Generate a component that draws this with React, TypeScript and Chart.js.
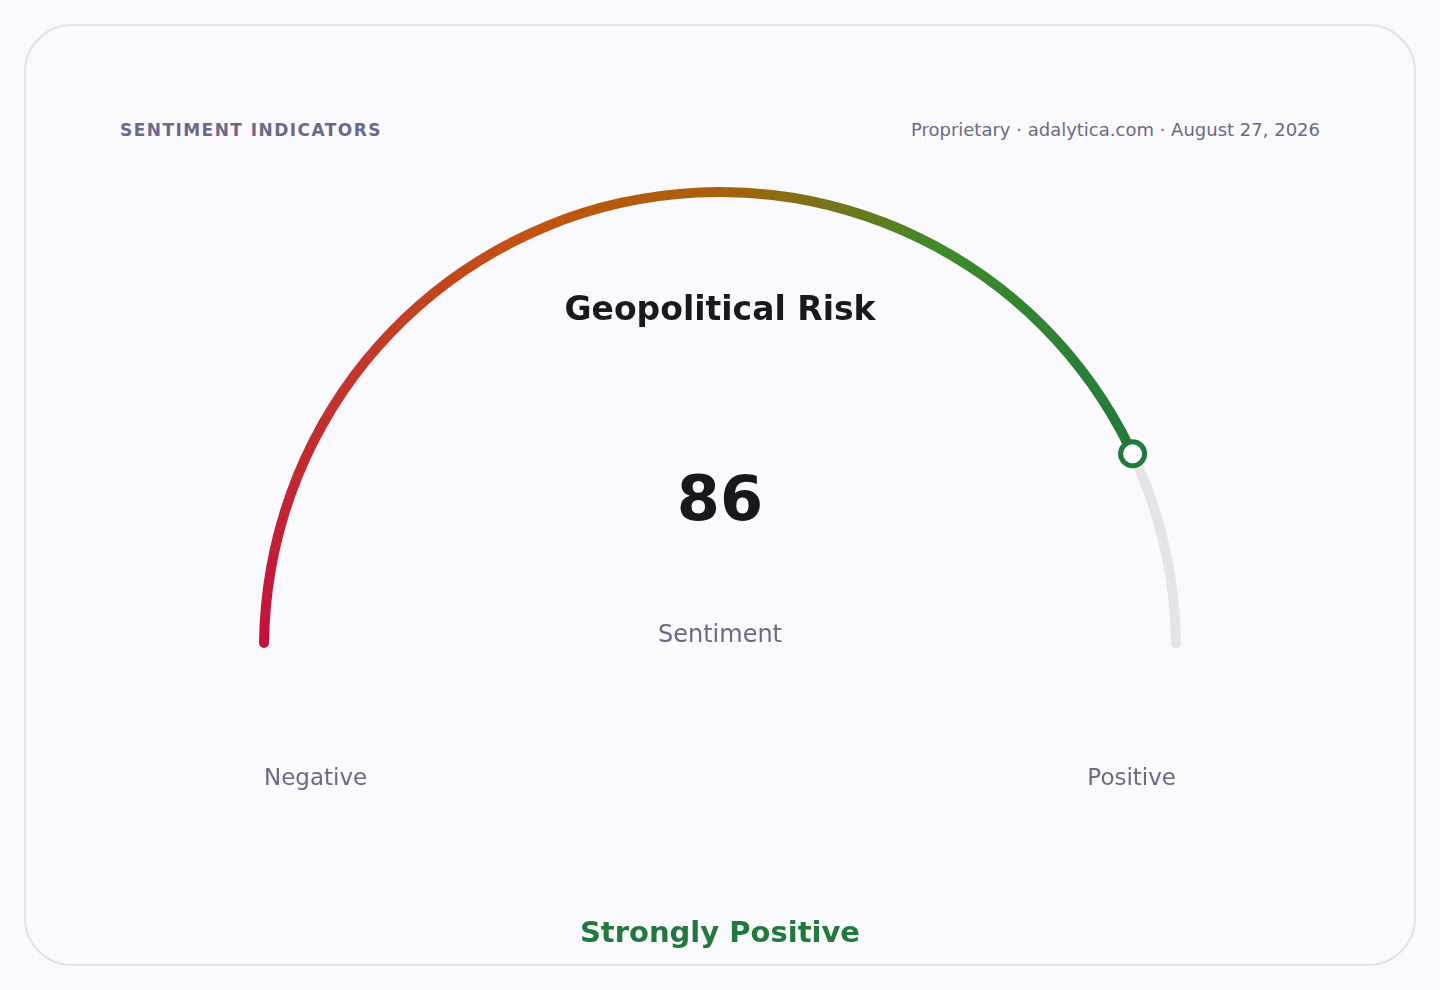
import React, { useEffect, useRef } from 'react';
import Chart from 'chart.js/auto';

// gauge data
const SCORE = 86;
const SCALE_MAX = 100;
const SEGMENT_LABELS = ['Sentiment', 'Remaining'];
const GAUGE_VALUES = [SCORE, SCALE_MAX - SCORE];
const END_LABELS = ['Negative', 'Positive'];
const GAUGE_TITLE = 'Geopolitical Risk';
const VALUE_CAPTION = 'Sentiment';
const VERDICT = 'Strongly Positive';

const FONT = '"DejaVu Sans", "Liberation Sans", sans-serif';
const GREEN = '#217a3b';
const TRACK = '#e4e4e8';
const MUTED = '#6b6b85';

// gradient stops along the half circle (0 = left end, 1 = right end)
const GRADIENT_STOPS: [number, string][] = [
    [0, '#c4103e'],
    [0.22, '#c23a2a'],
    [0.36, '#c2530f'],
    [0.5, '#a8600a'],
    [0.66, '#3f8a2a'],
    [0.86, '#217a3b'],
    [1, '#217a3b'],
];

const gaugeText = {
    id: 'gaugeText',
    afterDatasetsDraw(chart: any) {
        const arc = chart.getDatasetMeta(0).data[0];
        if (!arc) return;
        const { x, y, endAngle, outerRadius, innerRadius } = arc.getProps(
            ['x', 'y', 'endAngle', 'outerRadius', 'innerRadius'], true);
        const rMid = (outerRadius + innerRadius) / 2;
        const ctx = chart.ctx;
        ctx.save();

        // knob at the score position
        const kx = x + Math.cos(endAngle) * rMid;
        const ky = y + Math.sin(endAngle) * rMid;
        ctx.beginPath();
        ctx.arc(kx, ky, 12, 0, Math.PI * 2);
        ctx.fillStyle = '#ffffff';
        ctx.fill();
        ctx.lineWidth = 5;
        ctx.strokeStyle = GREEN;
        ctx.stroke();

        ctx.textBaseline = 'alphabetic';
        ctx.textAlign = 'center';
        ctx.fillStyle = '#18181f';
        ctx.font = `bold 33px ${FONT}`;
        ctx.fillText(GAUGE_TITLE, x, y - 328);

        ctx.fillStyle = '#18181b';
        ctx.font = `bold 62px ${FONT}`;
        ctx.fillText(String(GAUGE_VALUES[0]), x, y - 128);

        ctx.fillStyle = MUTED;
        ctx.font = `24px ${FONT}`;
        ctx.fillText(VALUE_CAPTION, x, y - 6);

        ctx.font = `23px ${FONT}`;
        ctx.textAlign = 'left';
        ctx.fillText(END_LABELS[0], x - rMid, y + 137);
        ctx.textAlign = 'right';
        ctx.fillText(END_LABELS[1], x + rMid, y + 137);

        ctx.restore();
    },
};

const GaugeChart: React.FC = () => {
    const canvasRef = useRef<HTMLCanvasElement>(null);
    const chartRef = useRef<Chart | null>(null);

    useEffect(() => {
        if (!canvasRef.current) return;
        if (chartRef.current) chartRef.current.destroy();

        let gradient: CanvasGradient | null = null;

        chartRef.current = new Chart(canvasRef.current, {
            type: 'doughnut',
            data: {
                labels: SEGMENT_LABELS,
                datasets: [
                    {
                        data: GAUGE_VALUES,
                        backgroundColor: (c: any) => {
                            if (c.dataIndex !== 0) return TRACK;
                            const area = c.chart.chartArea;
                            if (!area) return GRADIENT_STOPS[0][1];
                            if (!gradient) {
                                const cx = (area.left + area.right) / 2;
                                gradient = c.chart.ctx.createConicGradient(Math.PI, cx, area.bottom);
                                GRADIENT_STOPS.forEach(([p, col]) => gradient!.addColorStop(p * 0.5, col));
                                gradient!.addColorStop(1, GRADIENT_STOPS[0][1]);
                            }
                            return gradient;
                        },
                        borderWidth: 0,
                        borderRadius: 5,
                        spacing: 0,
                    },
                ],
            },
            options: {
                responsive: true,
                maintainAspectRatio: false,
                animation: false,
                rotation: -90,
                circumference: 180,
                // percentage: a pixel cutout is measured against the short side for half circles
                cutout: '97.83%',
                layout: { padding: { left: 259, right: 259, top: 187, bottom: 342 } },
                plugins: {
                    legend: { display: false },
                    tooltip: { enabled: false },
                },
                events: [],
            },
            plugins: [gaugeText],
        });

        return () => {
            if (chartRef.current) {
                chartRef.current.destroy();
                chartRef.current = null;
            }
        };
    }, []);

    return (
        <div style={{ position: 'absolute', left: 0, top: 0, width: 1440, height: 990 }}>
            <canvas ref={canvasRef} />
        </div>
    );
};

export default function App() {
    useEffect(() => {
        document.body.style.margin = '0';
        document.body.style.background = '#f9f9fd';
    }, []);

    return (
        <div style={{ position: 'relative', width: 1440, height: 990, background: '#f9f9fd', fontFamily: FONT, overflow: 'hidden' }}>
            <div
                style={{
                    position: 'absolute',
                    left: 24,
                    top: 24,
                    width: 1392,
                    height: 942,
                    boxSizing: 'border-box',
                    border: '2px solid #e1e1ee',
                    borderRadius: 48,
                    background: '#f9f9fe',
                }}
            />
            <div
                style={{
                    position: 'absolute',
                    left: 120,
                    top: 120,
                    fontSize: 17,
                    lineHeight: '20px',
                    fontWeight: 700,
                    letterSpacing: 1.45,
                    color: '#6b6989',
                }}
            >
                SENTIMENT INDICATORS
            </div>
            <div
                style={{
                    position: 'absolute',
                    right: 120,
                    top: 119,
                    fontSize: 18,
                    lineHeight: '21px',
                    color: '#6b6b80',
                    whiteSpace: 'nowrap',
                }}
            >
                Proprietary · adalytica.com · August 27, 2026
            </div>
            <GaugeChart />
            <div
                style={{
                    position: 'absolute',
                    left: 0,
                    width: 1440,
                    top: 915,
                    textAlign: 'center',
                    fontSize: 29,
                    lineHeight: '34px',
                    fontWeight: 700,
                    color: GREEN,
                }}
            >
                {VERDICT}
            </div>
        </div>
    );
}
